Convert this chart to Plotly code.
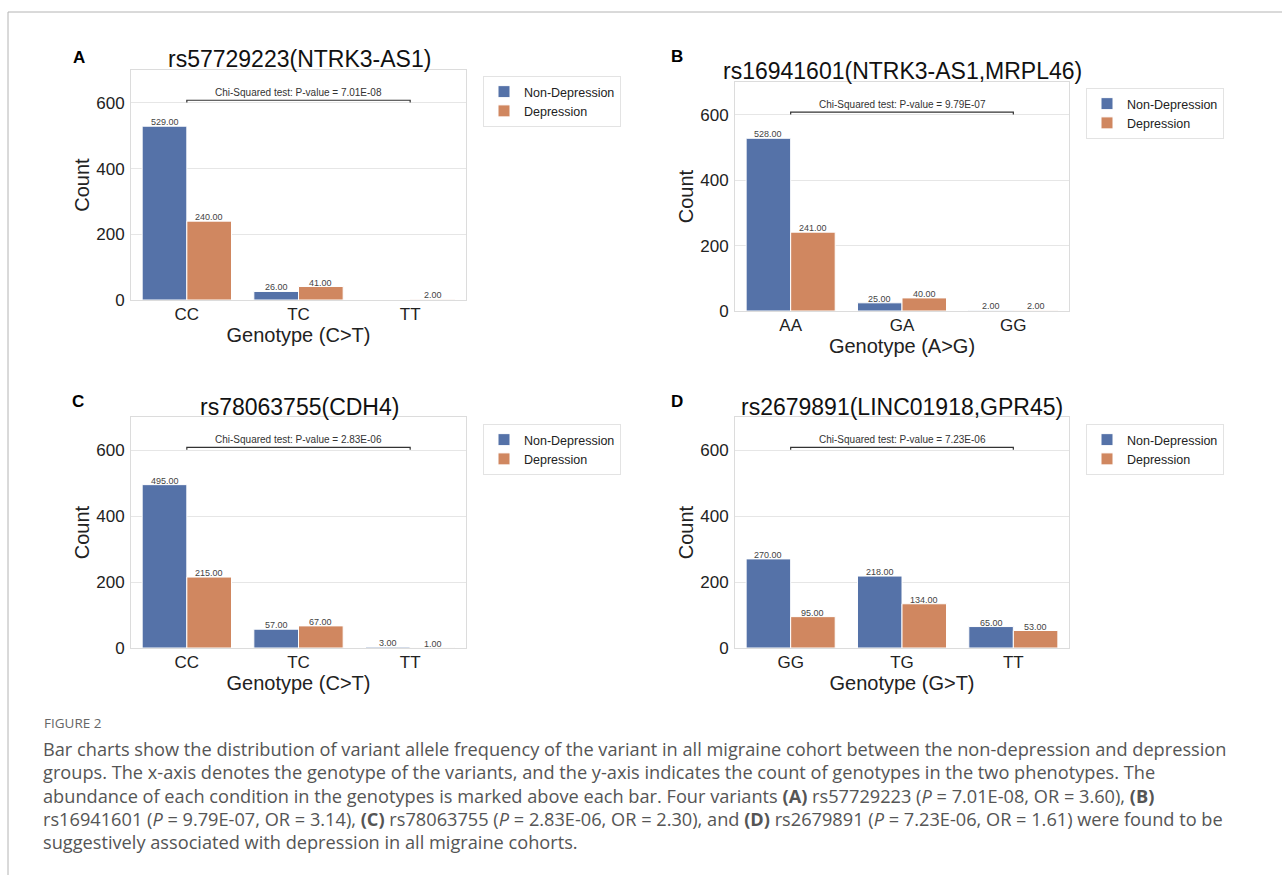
import plotly.graph_objects as go

# ---------------- data ----------------
panel_letters = ["A", "B", "C", "D"]
titles = ["rs57729223(NTRK3-AS1)", "rs16941601(NTRK3-AS1,MRPL46)",
          "rs78063755(CDH4)", "rs2679891(LINC01918,GPR45)"]
x_titles = ["Genotype (C>T)", "Genotype (A>G)", "Genotype (C>T)", "Genotype (G>T)"]
genotypes_a = ["CC", "TC", "TT"]
genotypes_b = ["AA", "GA", "GG"]
genotypes_c = ["CC", "TC", "TT"]
genotypes_d = ["GG", "TG", "TT"]
non_depression_a = [529, 26, None]
depression_a = [240, 41, 2]
non_depression_b = [528, 25, 2]
depression_b = [241, 40, 2]
non_depression_c = [495, 57, 3]
depression_c = [215, 67, 1]
non_depression_d = [270, 218, 65]
depression_d = [95, 134, 53]
p_values = ["7.01E-08", "9.79E-07", "2.83E-06", "7.23E-06"]
y_ticks = [0, 200, 400, 600]
series_names = ["Non-Depression", "Depression"]

caption_label = "FIGURE 2"
caption_lines = [
    "Bar charts show the distribution of variant allele frequency of the variant in all migraine cohort between the non-depression and depression",
    "groups. The x-axis denotes the genotype of the variants, and the y-axis indicates the count of genotypes in the two phenotypes. The",
    "abundance of each condition in the genotypes is marked above each bar. Four variants <b>(A)</b> rs57729223 (<i>P</i> = 7.01E-08, OR = 3.60), <b>(B)</b>",
    "rs16941601 (<i>P</i> = 9.79E-07, OR = 3.14), <b>(C)</b> rs78063755 (<i>P</i> = 2.83E-06, OR = 2.30), and <b>(D)</b> rs2679891 (<i>P</i> = 7.23E-06, OR = 1.61) were found to be",
    "suggestively associated with depression in all migraine cohorts.",
]

genotypes = [genotypes_a, genotypes_b, genotypes_c, genotypes_d]
non_dep = [non_depression_a, non_depression_b, non_depression_c, non_depression_d]
dep = [depression_a, depression_b, depression_c, depression_d]

# ---------------- layout constants ----------------
W, H = 1282, 875
BLUE = "#5572a8"
ORANGE = "#d08760"
FONT = "Liberation Sans, Arial, sans-serif"
CAP_FONT = "Open Sans, sans-serif"

# plot areas in pixels: (left, right, top, bottom)
boxes = [(131, 466, 70, 300), (735, 1069, 82, 311),
         (131, 466, 417, 648), (735, 1069, 417, 648)]
title_pos = [(299, 59), (902, 71), (299, 407), (902, 407)]
letter_pos = [(79, 57), (677, 56), (78, 401), (677, 401)]
legend_pos = [(483, 76), (1086, 88), (483, 424), (1086, 424)]

def px(x):
    return x / W

def py(y):
    return 1 - y / H

fig = go.Figure()
layout = dict(
    width=W, height=H, margin=dict(l=0, r=0, t=0, b=0),
    paper_bgcolor="white", plot_bgcolor="white",
    barmode="group", bargap=0.2, bargroupgap=0,
    font=dict(family=FONT, color="#222"),
)
annotations = []
shapes = []

for i in range(4):
    sfx = "" if i == 0 else str(i + 1)
    xa, ya = "x" + sfx, "y" + sfx
    leg = "legend" + sfx
    for j, (name, vals, col) in enumerate([(series_names[0], non_dep[i], BLUE),
                                            (series_names[1], dep[i], ORANGE)]):
        fig.add_trace(go.Bar(
            x=genotypes[i], y=vals, name=name, xaxis=xa, yaxis=ya, legend=leg,
            marker=dict(color=col, line=dict(color="white", width=1)),
            hoverinfo="x+y",
        ))
        offset = -0.2 if j == 0 else 0.2
        for k, v in enumerate(vals):
            if v is None:
                continue
            annotations.append(dict(
                xref=xa, yref=ya, x=k + offset, y=v, yanchor="bottom", yshift=-3,
                text=f"{v:.2f}", showarrow=False,
                font=dict(size=9, color="#444", family=FONT)))
    l, r, t, b = boxes[i]
    layout["xaxis" + sfx] = dict(
        domain=[px(l), px(r)], anchor=ya, range=[-0.5, 2.5],
        showgrid=False, showline=True, mirror=True, linecolor="#dcdcdc", linewidth=1,
        ticks="", tickfont=dict(size=17, color="#222"), ticklabelstandoff=-1,
        title=dict(text=x_titles[i], font=dict(size=20, color="#222"), standoff=2),
        automargin=False, zeroline=False, fixedrange=True,
    )
    layout["yaxis" + sfx] = dict(
        domain=[py(b), py(t)], anchor=xa, range=[0, 700], tickvals=y_ticks,
        showgrid=True, gridcolor="#e6e6e6", gridwidth=1,
        showline=True, mirror=True, linecolor="#dcdcdc", linewidth=1,
        ticks="", tickfont=dict(size=17, color="#222"), ticklabelstandoff=2,
        title=dict(text="Count", font=dict(size=20, color="#222"), standoff=1),
        automargin=False, zeroline=False, fixedrange=True,
    )
    lx, ly = legend_pos[i]
    layout[leg] = dict(
        x=px(lx), y=py(ly), xanchor="left", yanchor="top",
        bgcolor="white", bordercolor="#e3e3e3", borderwidth=1,
        font=dict(size=12.5, color="#222", family=FONT), tracegroupgap=0,
    )
    # significance bracket spanning first to last genotype
    shapes.append(dict(type="path", xref=xa, yref=ya,
                       path="M 0,601 L 0,608 L 2,608 L 2,601",
                       line=dict(color="#333", width=1.2)))
    annotations.append(dict(xref=xa, yref=ya, x=1, y=608, yanchor="bottom",
                            text=f"Chi-Squared test: P-value = {p_values[i]}",
                            showarrow=False, font=dict(size=10, color="#333", family=FONT)))
    tx, ty = title_pos[i]
    annotations.append(dict(xref="paper", yref="paper", x=px(tx), y=py(ty),
                            xanchor="center", yanchor="middle", text=titles[i],
                            showarrow=False, font=dict(size=23, color="#111", family=FONT)))
    cx, cy = letter_pos[i]
    annotations.append(dict(xref="paper", yref="paper", x=px(cx), y=py(cy),
                            xanchor="center", yanchor="middle", text=f"<b>{panel_letters[i]}</b>",
                            showarrow=False, font=dict(size=17, color="#000", family=FONT)))

# caption
annotations.append(dict(xref="paper", yref="paper", x=px(42), y=py(723), xanchor="left",
                        yanchor="middle", text=caption_label, showarrow=False,
                        font=dict(size=13.5, color="#666", family=CAP_FONT)))
for k, line in enumerate(caption_lines):
    annotations.append(dict(xref="paper", yref="paper", x=px(41), y=py(749 + 23.3 * k),
                            xanchor="left", yanchor="middle", text=line, showarrow=False,
                            font=dict(size=18.2, color="#555", family=CAP_FONT)))

# page frame lines
shapes.append(dict(type="line", xref="paper", yref="paper", x0=px(8), x1=1, y0=py(12), y1=py(12),
                   line=dict(color="#b4b4b4", width=1)))
shapes.append(dict(type="line", xref="paper", yref="paper", x0=px(8), x1=px(8), y0=py(12), y1=0,
                   line=dict(color="#b4b4b4", width=1)))

layout["annotations"] = annotations
layout["shapes"] = shapes
fig.update_layout(**layout)

fig.write_html("out.html", config={"displayModeBar": False},
               post_script="document.body.style.margin='0';document.body.style.overflow='hidden';")
